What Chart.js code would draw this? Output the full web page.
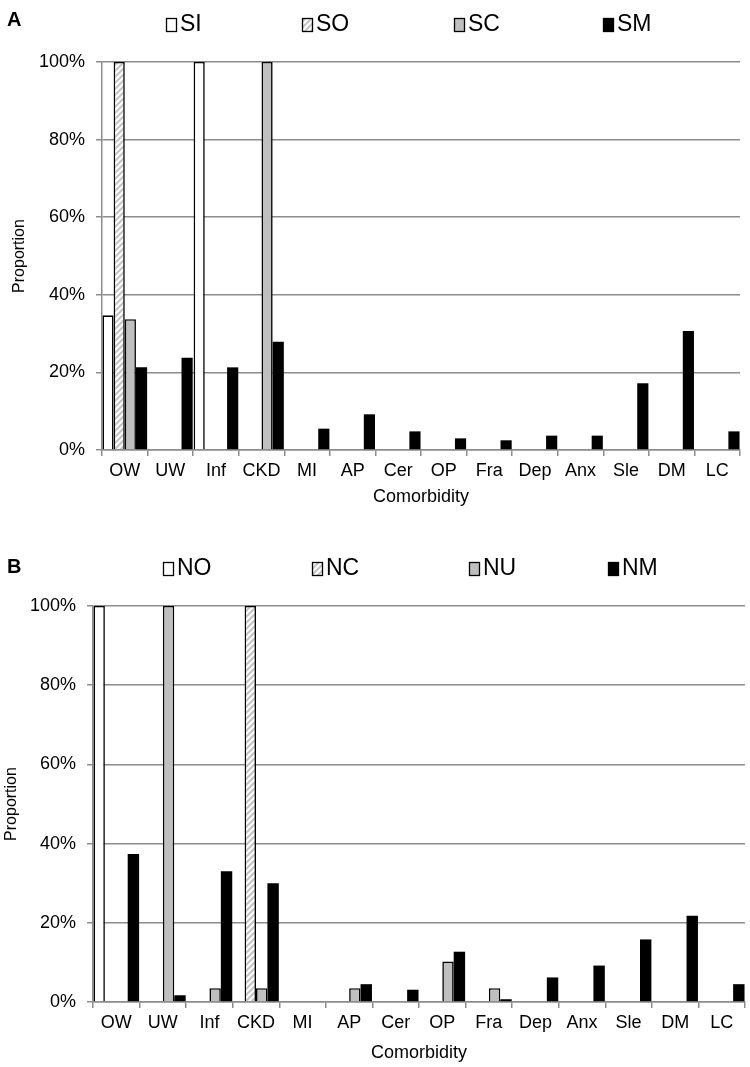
<!DOCTYPE html>
<html>
<head>
<meta charset="utf-8">
<script src="https://cdn.jsdelivr.net/npm/chart.js@4.4.0/dist/chart.umd.min.js"></script>
<style>
  body { margin:0; background:#fff; }
  .panel { position:relative; width:750px; }
  .letter { position:absolute; left:7px; font:bold 20px "Liberation Sans", Arial, sans-serif; color:#000; }
</style>
</head>
<body>
<div class="panel" style="height:527px">
  <div class="letter" style="top:8px">A</div>
  <canvas id="graficaA" width="750" height="527"></canvas>
</div>
<div class="panel" style="height:540px">
  <div class="letter" style="top:28px">B</div>
  <canvas id="graficaB" width="750" height="540"></canvas>
</div>
<script>
const categorias = ['OW','UW','Inf','CKD','MI','AP','Cer','OP','Fra','Dep','Anx','Sle','DM','LC'];
const yTicks = [0,20,40,60,80,100];

// panel A (%)
const SI = [34.7,0,100,0,0,0,0,0,0,0,0,0,0,0];
const SO = [100,0,0,0,0,0,0,0,0,0,0,0,0,0];
const SC = [33.7,0,0,100,0,0,0,0,0,0,0,0,0,0];
const SM = [21.3,23.8,21.3,27.9,5.5,9.2,4.8,3.0,2.5,3.7,3.7,17.2,30.7,4.8];

// panel B (%)
const NO = [100,0,0,0,0,0,0,0,0,0,0,0,0,0];
const NC = [0,0,0,100,0,0,0,0,0,0,0,0,0,0];
const NU = [0,100,3.5,3.5,0,3.5,0,10.2,3.5,0,0,0,0,0];
const NM = [37.4,1.7,33.0,30.0,0,4.5,3.1,12.7,0.7,6.2,9.2,15.8,21.8,4.5];

const fuente = '"Liberation Sans", Arial, sans-serif';
const gris = '#8c8c8c';

function rayado() {
    const c = document.createElement('canvas');
    c.width = 6; c.height = 6;
    const g = c.getContext('2d');
    g.fillStyle = '#fff';
    g.fillRect(0,0,6,6);
    g.strokeStyle = '#c4c4c4';
    g.lineWidth = 2;
    g.beginPath();
    g.moveTo(-1,7); g.lineTo(7,-1);
    g.moveTo(-4,4); g.lineTo(4,-4);
    g.moveTo(2,10); g.lineTo(10,2);
    g.stroke();
    return g.createPattern(c,'repeat');
}
const patron = rayado();

function series(nombres, valores) {
    const fills = ['#ffffff', patron, '#bfbfbf', '#000000'];
    return nombres.map((n,i) => ({
        label: n,
        data: valores[i],
        backgroundColor: fills[i],
        borderColor: '#000',
        borderWidth: i == 3 ? 0 : 1.6,
        borderSkipped: 'bottom',
        categoryPercentage: 0.98,
        barPercentage: 1.0
    }));
}

// legend drawn at fixed slots in the top padding
const leyenda = {
    id: 'leyenda',
    afterDraw(chart, args, opts) {
        const ctx = chart.ctx;
        ctx.save();
        ctx.font = '23px ' + fuente;
        ctx.textBaseline = 'middle';
        chart.data.datasets.forEach((ds,i) => {
            const x = opts.xs[i], y = opts.y;
            ctx.fillStyle = ds.backgroundColor;
            ctx.fillRect(x, y-6, 10, 13);
            ctx.strokeStyle = '#000';
            ctx.lineWidth = 1.3;
            ctx.strokeRect(x+0.5, y-5.5, 10, 13);
            ctx.fillStyle = '#000';
            ctx.fillText(ds.label, x+14, y+1);
        });
        ctx.restore();
    }
};

function crear(id, nombres, valores, cfg) {
    return new Chart(document.getElementById(id), {
        type: 'bar',
        data: { labels: categorias, datasets: series(nombres, valores) },
        plugins: [leyenda],
        options: {
            responsive: false,
            animation: false,
            layout: { padding: { top: cfg.top, right: cfg.right, left: 0, bottom: cfg.bottom } },
            plugins: {
                legend: { display: false },
                tooltip: { enabled: false },
                leyenda: { xs: cfg.lx, y: cfg.ly }
            },
            scales: {
                x: {
                    grid: { offset: true, drawOnChartArea: false, tickLength: 6, color: gris, lineWidth: 1.5 },
                    border: { color: gris, width: 1.5 },
                    ticks: { color: '#000', font: { family: fuente, size: 18 }, padding: 4, maxRotation: 0, autoSkip: false },
                    title: { display: true, text: 'Comorbidity', color: '#000', font: { family: fuente, size: 18 }, padding: 0 },
                    afterFit: s => { s.height = cfg.xh; }
                },
                y: {
                    min: 0, max: 100,
                    afterBuildTicks: s => { s.ticks = yTicks.map(v => ({ value: v })); },
                    grid: { tickLength: 6, color: gris, lineWidth: 1.5 },
                    border: { color: gris, width: 1.5 },
                    ticks: { color: '#000', font: { family: fuente, size: 18 }, padding: 11, callback: v => v + '%' },
                    title: { display: true, text: 'Proportion', color: '#000', font: { family: fuente, size: 16 }, padding: cfg.tp },
                    afterFit: s => { s.width = cfg.yw; }
                }
            }
        }
    });
}

var graficaA = crear('graficaA', ['SI','SO','SC','SM'], [SI,SO,SC,SM],
    { top: 62, right: 10, bottom: 19, xh: 58, yw: 102, tp: 10, lx: [166,302,454,603], ly: 24 });
var graficaB = crear('graficaB', ['NO','NC','NU','NM'], [NO,NC,NU,NM],
    { top: 79, right: 5, bottom: 3, xh: 62, yw: 93, tp: 2, lx: [163,312,469,608], ly: 41 });
</script>
</body>
</html>
